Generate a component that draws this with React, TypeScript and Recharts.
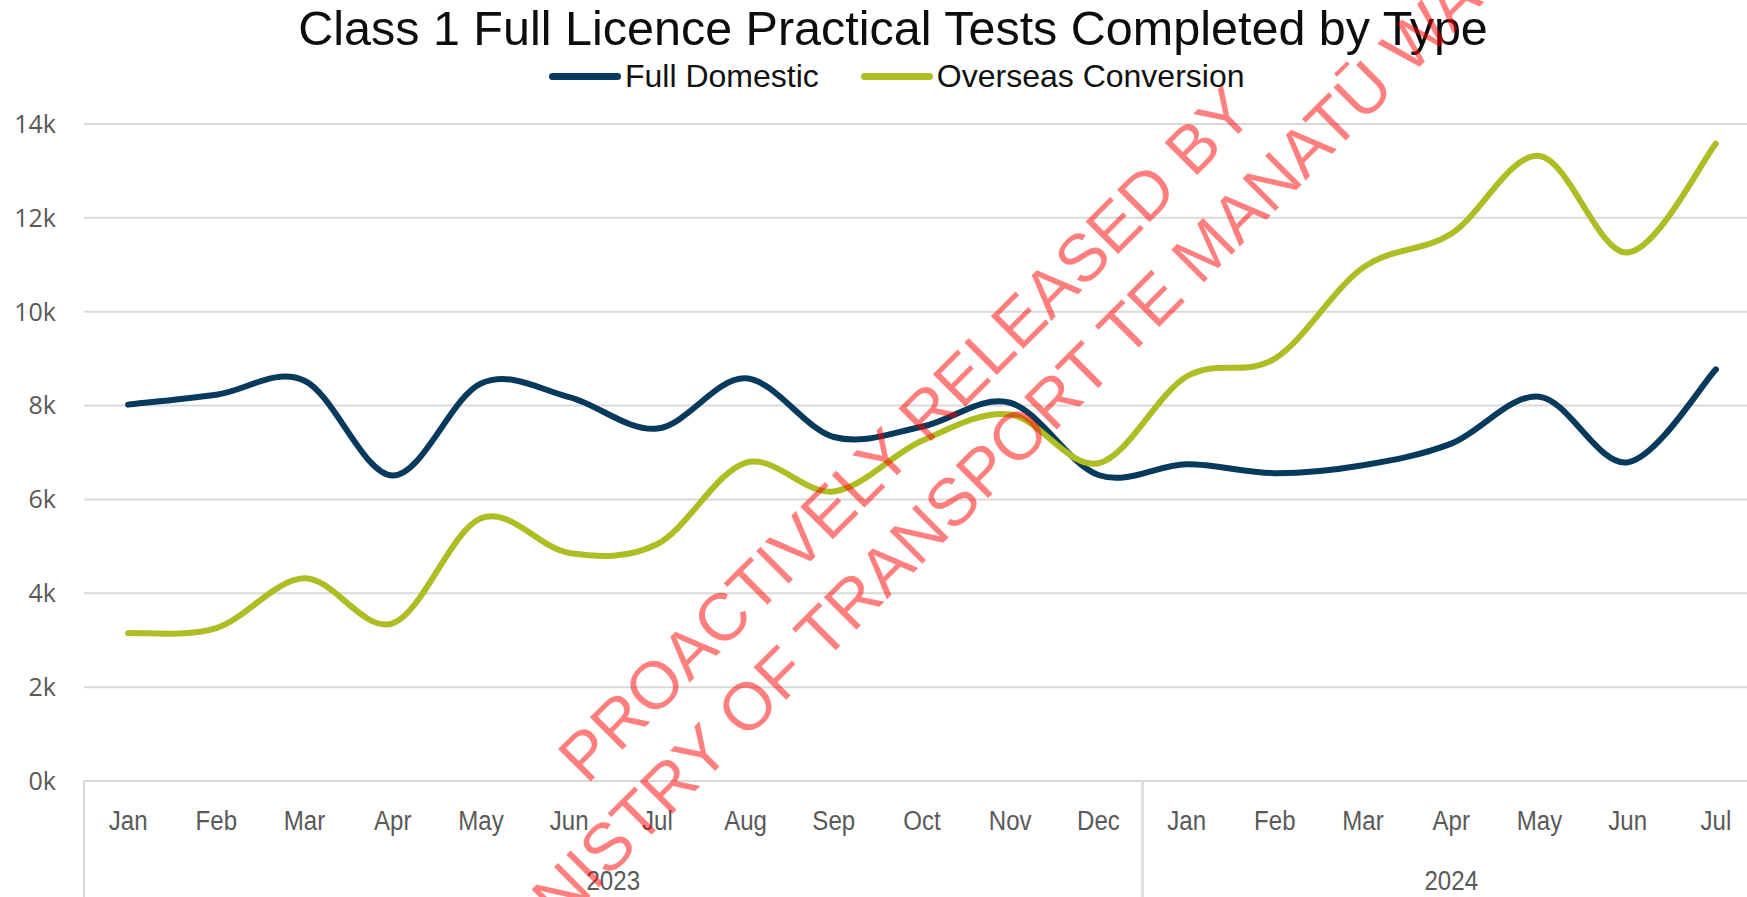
import React from "react";
import { LineChart, Line, XAxis, YAxis, CartesianGrid, Legend } from "recharts";

const months = ["Jan", "Feb", "Mar", "Apr", "May", "Jun", "Jul", "Aug", "Sep", "Oct", "Nov", "Dec", "Jan", "Feb", "Mar", "Apr", "May", "Jun", "Jul"];
const years = ["2023", "2023", "2023", "2023", "2023", "2023", "2023", "2023", "2023", "2023", "2023", "2023", "2024", "2024", "2024", "2024", "2024", "2024", "2024"];
const fullDomestic = [8020, 8230, 8530, 6510, 8470, 8180, 7510, 8580, 7330, 7550, 8060, 6520, 6750, 6560, 6730, 7190, 8190, 6790, 8770];
const overseasConversion = [3150, 3260, 4320, 3360, 5600, 4860, 5050, 6780, 6170, 7250, 7810, 6770, 8620, 9000, 10940, 11660, 13320, 11260, 13580];
const yTicks = [0, 2000, 4000, 6000, 8000, 10000, 12000, 14000];

const data = months.map((m, i) => ({
  month: m,
  year: years[i],
  domestic: fullDomestic[i],
  overseas: overseasConversion[i],
}));

const W = 1760;
const H = 897;
const Y_AXIS_W = 84;
const AXIS_H = 58;
const BAND = (W - Y_AXIS_W) / months.length;
const GREY = "#595959";
const LINE_GREY = "#d9d9d9";
const NAVY = "#053a5c";
const LIME = "#aebd24";
const SANS = "'Liberation Sans', Arial, sans-serif";

// excel style smoothing (catmull-rom through the points)
const excelSmooth = (context: any) => {
  let pts: number[][] = [];
  return {
    areaStart() {},
    areaEnd() {},
    lineStart() {
      pts = [];
    },
    lineEnd() {
      if (!pts.length) return;
      context.moveTo(pts[0][0], pts[0][1]);
      for (let i = 0; i < pts.length - 1; i++) {
        const p0 = pts[i - 1] || pts[i];
        const p1 = pts[i];
        const p2 = pts[i + 1];
        const p3 = pts[i + 2] || p2;
        context.bezierCurveTo(
          p1[0] + (p2[0] - p0[0]) / 6,
          p1[1] + (p2[1] - p0[1]) / 6,
          p2[0] - (p3[0] - p1[0]) / 6,
          p2[1] - (p3[1] - p1[1]) / 6,
          p2[0],
          p2[1]
        );
      }
    },
    point(x: number, y: number) {
      pts.push([x, y]);
    },
  };
};

const MonthTick = (props: any) => {
  const { x, y, payload } = props;
  return (
    <text transform={`translate(${x},${y + 49}) scale(0.86,1)`} textAnchor="middle" fontSize={28} fontFamily={SANS} fill={GREY}>
      {payload.value}
    </text>
  );
};

const YearTick = (props: any) => {
  const { x, y, index } = props;
  const yr = years[index];
  const first = years.indexOf(yr);
  const last = years.lastIndexOf(yr);
  const mid = (first + last) / 2;
  const items: React.ReactNode[] = [];
  if (index === first) {
    items.push(<line key="l" x1={x - BAND / 2} x2={x - BAND / 2} y1={y - AXIS_H} y2={y + AXIS_H} stroke={LINE_GREY} strokeWidth={2} />);
  }
  if (index === last) {
    items.push(<line key="r" x1={x + BAND / 2} x2={x + BAND / 2} y1={y - AXIS_H} y2={y + AXIS_H} stroke={LINE_GREY} strokeWidth={2} />);
  }
  if (index === Math.floor(mid)) {
    const tx = x + (mid - Math.floor(mid)) * BAND;
    items.push(
      <text key="t" transform={`translate(${tx},${y + 51}) scale(0.86,1)`} textAnchor="middle" fontSize={28} fontFamily={SANS} fill={GREY}>
        {yr}
      </text>
    );
  }
  return <g>{items}</g>;
};

const renderLegend = (props: any) => {
  const { payload } = props;
  return (
    <div style={{ display: "flex", alignItems: "center", fontFamily: SANS, fontSize: 32, color: "#111" }}>
      {payload.map((entry: any, i: number) => (
        <div key={`leg-${i}`} style={{ display: "flex", alignItems: "center", marginRight: 42 }}>
          <span style={{ display: "inline-block", width: 72, height: 7, borderRadius: 4, background: entry.color, marginRight: 4 }} />
          <span style={{ lineHeight: "32px", whiteSpace: "nowrap" }}>{entry.value}</span>
        </div>
      ))}
    </div>
  );
};

export default function App() {
  const wm1 = { x: 905, y: 434 };
  const wm2 = { x: 1011, y: 442 };
  return (
    <div style={{ position: "fixed", left: 0, top: 0, width: 1747, height: H, overflow: "hidden", background: "#fff" }}>
      <LineChart width={W} height={H} data={data} margin={{ top: 124, right: 0, bottom: 0, left: 0 }}>
        <CartesianGrid vertical={false} stroke={LINE_GREY} strokeWidth={2} />
        <XAxis
          dataKey="month"
          height={AXIS_H}
          interval={0}
          padding={{ left: BAND / 2, right: BAND / 2 }}
          tickLine={false}
          tickSize={0}
          tickMargin={0}
          axisLine={{ stroke: LINE_GREY, strokeWidth: 2 }}
          tick={(p: any) => <MonthTick {...p} />}
        />
        <XAxis
          xAxisId="year"
          dataKey="month"
          height={AXIS_H}
          interval={0}
          padding={{ left: BAND / 2, right: BAND / 2 }}
          tickLine={false}
          tickSize={0}
          tickMargin={0}
          axisLine={false}
          tick={(p: any) => <YearTick {...p} />}
        />
        <YAxis
          width={Y_AXIS_W}
          domain={[0, 14000]}
          ticks={yTicks}
          interval={0}
          axisLine={false}
          tickLine={false}
          tickSize={0}
          tickMargin={28}
          tickFormatter={(v: number) => `${v / 1000}k`}
          tick={{ fill: GREY, fontSize: 25, fontFamily: "'Open Sans', sans-serif" }}
        />
        <Legend
          verticalAlign="middle"
          align="center"
          layout="horizontal"
          wrapperStyle={{ top: 60, left: 549, width: 760, height: 32 }}
          content={renderLegend}
        />
        <Line name="Full Domestic" dataKey="domestic" type={excelSmooth as any} stroke={NAVY} strokeWidth={6} strokeLinecap="round" dot={false} activeDot={false} isAnimationActive={false} />
        <Line name="Overseas Conversion" dataKey="overseas" type={excelSmooth as any} stroke={LIME} strokeWidth={6} strokeLinecap="round" dot={false} activeDot={false} isAnimationActive={false} />
      </LineChart>
      <svg width={1747} height={H} style={{ position: "absolute", left: 0, top: 0, pointerEvents: "none" }}>
        <text x={893} y={45} textAnchor="middle" fontSize={48.5} fontFamily={SANS} fill="#0d0d0d">
          Class 1 Full Licence Practical Tests Completed by Type
        </text>
        <g fill="#ff0000" fillOpacity={0.5} fontSize={67} fontFamily={SANS}>
          <text x={wm1.x} y={wm1.y} textAnchor="middle" dominantBaseline="central" transform={`rotate(-45 ${wm1.x} ${wm1.y})`}>
            PROACTIVELY RELEASED BY
          </text>
          <text x={wm2.x} y={wm2.y} textAnchor="middle" dominantBaseline="central" transform={`rotate(-45 ${wm2.x} ${wm2.y})`}>
            MINISTRY OF TRANSPORT TE MANATŪ WAKA
          </text>
        </g>
      </svg>
    </div>
  );
}
